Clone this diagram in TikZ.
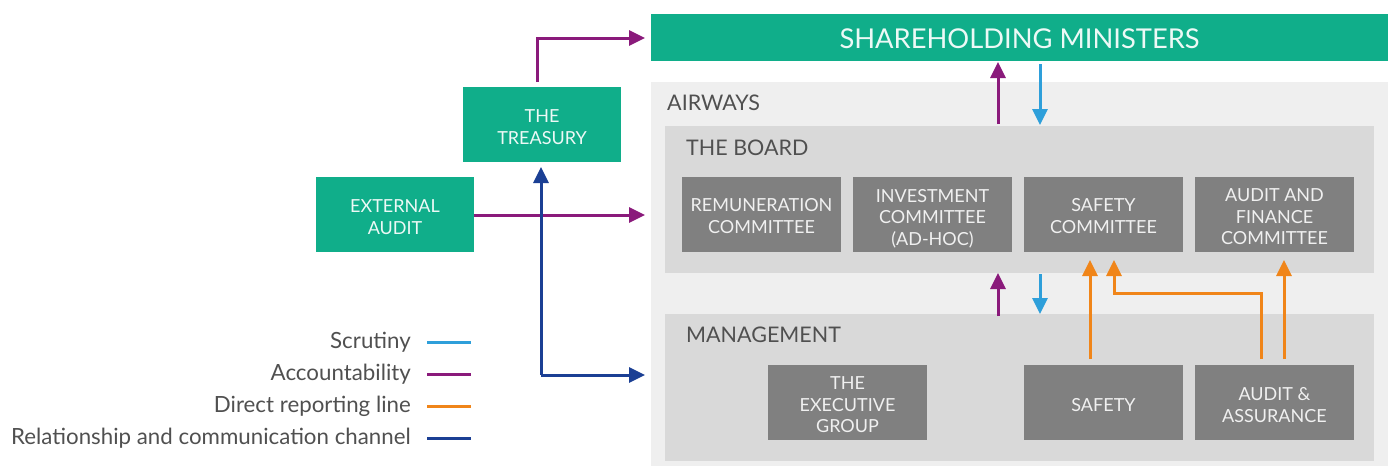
\documentclass[tikz,border=0pt]{standalone}
\usepackage{fontspec}
\setmainfont{Lato}
\usetikzlibrary{arrows.meta}
\definecolor{teal}{HTML}{10AE8A}
\definecolor{panel}{HTML}{EFEFEF}
\definecolor{inner}{HTML}{D9D9D9}
\definecolor{unit}{HTML}{808080}
\definecolor{labelgray}{HTML}{505050}
\definecolor{acc}{HTML}{8A1A7B}
\definecolor{scr}{HTML}{2E9FDA}
\definecolor{rep}{HTML}{F08519}
\definecolor{rel}{HTML}{1B3F94}
\tikzset{
  tealbox/.style={fill=teal, inner sep=0pt},
  unitbox/.style={fill=unit, inner sep=0pt, minimum width=159pt, minimum height=75pt},
  boxtext/.style={align=center, inner sep=0pt, text depth=0pt, yshift=-2.5pt,
                  font=\fontsize{18}{21.5}\selectfont},
  tealtext/.style={boxtext, text=white!92!teal},
  unittext/.style={boxtext, text=white!94!black},
  heading/.style={anchor=west, text=labelgray, font=\fontsize{21.5}{24}\selectfont, inner sep=0pt},
  legendtext/.style={anchor=east, text=labelgray, font=\fontsize{22.3}{24}\selectfont, inner sep=0pt},
  flow/.style={line width=3pt, -{Triangle[length=16pt,width=15pt]}},
  legline/.style={line width=3pt},
}
\begin{document}
\begin{tikzpicture}[x=1pt,y=-1pt]
\useasboundingbox (0,0) rectangle (1392,466);

% panels
\fill[panel] (651,82) rectangle (1388,466);
\fill[inner] (665,126) rectangle (1374,273);
\fill[inner] (665,314) rectangle (1374,461);
\node[heading] (airways) at (667,103) {AIRWAYS};
\node[heading] (board) at (686,148) {THE BOARD};
\node[heading] (mgmt) at (686,335) {MANAGEMENT};

% top box
\node[tealbox, minimum width=737pt, minimum height=47pt] (sh) at (1019.5,37.5) {};
\node[tealtext, font=\fontsize{27.3}{30}\selectfont, yshift=1.5pt] (sh-t) at (sh.center) {SHAREHOLDING MINISTERS};

% outside bodies
\node[tealbox, minimum width=158pt, minimum height=75pt] (treasury) at (542,124.5) {};
\node[tealtext] (treasury-t) at (treasury.center) {THE\\TREASURY};
\node[tealbox, minimum width=158pt, minimum height=75pt] (ext) at (395,214.5) {};
\node[tealtext] (ext-t) at (ext.center) {EXTERNAL\\AUDIT};

% committees
\node[unitbox] (rem) at (761.5,214.5) {};
\node[unittext, yshift=1pt] (rem-t) at (rem.center) {REMUNERATION\\COMMITTEE};
\node[unitbox] (inv) at (932.5,214.5) {};
\node[unittext] (inv-t) at (inv.center) {INVESTMENT\\COMMITTEE\\(AD-HOC)};
\node[unitbox] (safc) at (1103.5,214.5) {};
\node[unittext, yshift=1pt] (safc-t) at (safc.center) {SAFETY\\COMMITTEE};
\node[unitbox] (afc) at (1274.5,214.5) {};
\node[unittext] (afc-t) at (afc.center) {AUDIT AND\\FINANCE\\COMMITTEE};

% management units
\node[unitbox] (exec) at (847.5,402.5) {};
\node[unittext] (exec-t) at (exec.center) {THE\\EXECUTIVE\\GROUP};
\node[unitbox] (safety) at (1103.5,402.5) {};
\node[unittext] (safety-t) at (safety.center) {SAFETY};
\node[unitbox] (aa) at (1274.5,402.5) {};
\node[unittext] (aa-t) at (aa.center) {AUDIT \&\\ASSURANCE};

% connector end points
\coordinate (shin) at (645,38);
\coordinate (airin) at (645,215);
\coordinate (mgin) at (645,375);
\coordinate (relcorner) at (541,375);

% accountability
\draw[flow, acc] (537,82) |- (shin);
\draw[flow, acc] (ext.east |- airin) -- (airin);
\draw[flow, acc] (998,124) -- (998,62);
\draw[flow, acc] (998,316) -- (998,273);

% scrutiny
\draw[flow, scr] (1040,64) -- (1040,125);
\draw[flow, scr] (1040,274) -- (1040,314);

% relationship channel
\draw[flow, rel] (relcorner) -- (541,167);
\draw[flow, rel] (relcorner) -- (mgin);

% direct reporting
\draw[flow, rep] (1090,359) -- (1090,260);
\draw[flow, rep] (1261,359) -- (1261,293) -- (1114,293) -- (1114,260);
\draw[flow, rep] (1284,359) -- (1284,260);

% legend
\node[legendtext] (l1) at (411,342) {Scrutiny};
\node[legendtext] (l2) at (411,374) {Accountability};
\node[legendtext] (l3) at (411,406) {Direct reporting line};
\node[legendtext] (l4) at (411,438) {Relationship and communication channel};
\draw[legline, scr] (427,342) -- (471,342);
\draw[legline, acc] (427,374) -- (471,374);
\draw[legline, rep] (427,406) -- (471,406);
\draw[legline, rel] (427,438) -- (471,438);
\end{tikzpicture}
\end{document}
